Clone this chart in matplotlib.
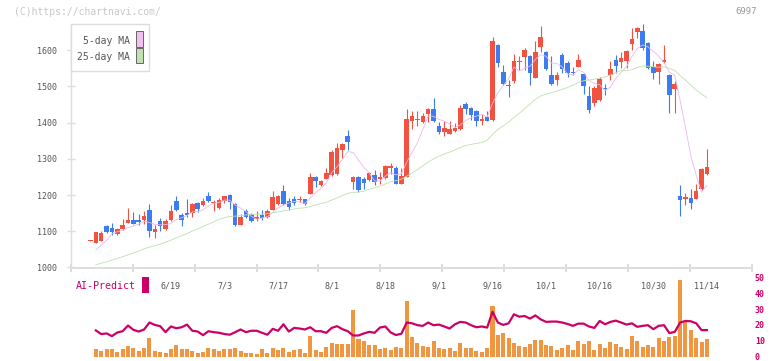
import numpy as np
import pandas as pd
import matplotlib
matplotlib.use("Agg")
import matplotlib.pyplot as plt
from matplotlib.patches import Rectangle
from matplotlib.transforms import blended_transform_factory

# daily prices (red = up day, blue = down day)
opens = [1073, 1068, 1074, 1114, 1109, 1093, 1106, 1124, 1131, 1131, 1131, 1159, 1099, 1128, 1106, 1131,
         1183, 1144, 1151, 1151, 1178, 1173, 1197, 1177, 1164, 1184, 1200, 1175, 1118, 1155, 1148, 1134,
         1145, 1139, 1160, 1175, 1211, 1184, 1189, 1186, 1189, 1203, 1250, 1228, 1244, 1255, 1257, 1325,
         1363, 1236, 1250, 1244, 1241, 1255, 1244, 1247, 1275, 1275, 1231, 1251, 1404, 1407, 1401, 1424,
         1437, 1390, 1375, 1369, 1377, 1382, 1450, 1439, 1432, 1405, 1414, 1407, 1614, 1539, 1503, 1514,
         1567, 1580, 1583, 1524, 1608, 1594, 1531, 1517, 1586, 1564, 1540, 1553, 1534, 1473, 1454, 1462,
         1495, 1531, 1572, 1567, 1570, 1617, 1650, 1652, 1619, 1553, 1539, 1567, 1531, 1492, 1197, 1189,
         1192, 1189, 1216, 1258]
highs = [1075, 1099, 1102, 1118, 1122, 1110, 1133, 1164, 1152, 1147, 1155, 1175, 1117, 1136, 1135, 1173,
         1197, 1151, 1189, 1179, 1182, 1191, 1209, 1186, 1192, 1198, 1204, 1177, 1148, 1161, 1150, 1156,
         1159, 1161, 1211, 1199, 1228, 1192, 1197, 1197, 1190, 1261, 1253, 1241, 1275, 1324, 1343, 1343,
         1379, 1252, 1253, 1251, 1264, 1269, 1264, 1283, 1288, 1280, 1275, 1437, 1433, 1432, 1426, 1440,
         1468, 1401, 1404, 1404, 1399, 1448, 1457, 1442, 1434, 1425, 1432, 1636, 1616, 1559, 1517, 1589,
         1583, 1606, 1586, 1625, 1667, 1597, 1583, 1539, 1591, 1570, 1553, 1589, 1537, 1501, 1501, 1525,
         1506, 1570, 1586, 1594, 1599, 1661, 1664, 1672, 1622, 1570, 1565, 1614, 1534, 1514, 1227, 1205,
         1216, 1230, 1274, 1327]
lows = [1072, 1067, 1073, 1094, 1090, 1091, 1103, 1123, 1119, 1118, 1119, 1085, 1082, 1102, 1103, 1129,
        1157, 1114, 1140, 1140, 1154, 1171, 1180, 1157, 1161, 1179, 1161, 1115, 1117, 1137, 1126, 1129,
        1130, 1137, 1159, 1172, 1172, 1159, 1172, 1181, 1172, 1202, 1223, 1225, 1243, 1252, 1255, 1303,
        1325, 1217, 1208, 1217, 1239, 1228, 1230, 1245, 1258, 1231, 1230, 1249, 1382, 1390, 1399, 1401,
        1401, 1368, 1363, 1368, 1374, 1379, 1425, 1407, 1391, 1394, 1403, 1405, 1552, 1503, 1470, 1509,
        1545, 1545, 1503, 1522, 1594, 1545, 1504, 1503, 1536, 1526, 1531, 1552, 1479, 1427, 1446, 1459,
        1476, 1517, 1537, 1550, 1550, 1600, 1633, 1600, 1548, 1520, 1506, 1565, 1426, 1426, 1142, 1172,
        1161, 1188, 1213, 1256]
closes = [1074, 1098, 1095, 1098, 1098, 1105, 1117, 1131, 1121, 1125, 1142, 1102, 1106, 1114, 1128, 1155,
          1159, 1131, 1145, 1176, 1162, 1183, 1184, 1182, 1186, 1196, 1180, 1118, 1140, 1139, 1129, 1139,
          1137, 1156, 1195, 1197, 1175, 1167, 1178, 1189, 1175, 1250, 1239, 1239, 1261, 1320, 1331, 1341,
          1346, 1250, 1214, 1233, 1261, 1237, 1250, 1280, 1280, 1231, 1252, 1410, 1417, 1410, 1418, 1437,
          1404, 1375, 1385, 1382, 1385, 1440, 1438, 1421, 1405, 1409, 1405, 1625, 1565, 1506, 1501, 1570,
          1570, 1600, 1537, 1594, 1636, 1548, 1506, 1531, 1548, 1537, 1537, 1572, 1501, 1434, 1495, 1520,
          1492, 1548, 1556, 1578, 1597, 1630, 1661, 1606, 1550, 1537, 1561, 1572, 1476, 1506, 1186, 1194,
          1178, 1211, 1272, 1277]
# closes before the first shown day (only feed the moving averages)
prior_closes = [1000, 995, 990, 985, 990, 1000, 1005, 995, 990, 985, 990, 1000, 1005, 1010, 1000, 995,
                990, 1000, 1005, 1010, 1010, 1030, 1030, 1010]

# lower panel, from the 2nd day on
volume = [5.4, 4.2, 5.4, 5.4, 3.5, 5.4, 7.3, 6.0, 4.2, 6.0, 12.3, 4.2, 3.5, 2.9, 5.4, 7.9, 5.4, 5.4, 4.2,
          2.9, 3.5, 6.0, 5.4, 4.2, 5.4, 5.4, 6.0, 4.2, 2.9, 2.9, 2.3, 5.4, 2.9, 6.0, 4.8, 6.0, 3.5, 4.8,
          5.4, 2.9, 13.5, 4.8, 3.5, 6.7, 9.2, 8.5, 8.5, 8.5, 29.8, 11.7, 10.4, 7.9, 7.9, 5.4, 6.0, 4.8,
          6.7, 6.0, 36.0, 12.9, 9.2, 7.3, 6.7, 10.4, 6.0, 5.4, 6.0, 4.2, 9.2, 6.0, 6.0, 4.2, 3.5, 6.0,
          32.3, 14.2, 15.4, 12.3, 9.2, 7.3, 6.7, 8.5, 11.0, 11.0, 7.9, 7.3, 4.8, 6.0, 7.9, 4.8, 10.4, 8.5,
          10.4, 4.8, 8.5, 6.0, 9.8, 8.5, 6.7, 5.4, 13.5, 10.4, 6.7, 7.9, 6.7, 12.3, 10.4, 12.9, 13.5, 49.2,
          22.3, 17.3, 12.3, 9.8, 11.7]
ai_predict = [16.5, 14.2, 14.6, 12.9, 15.2, 16.0, 19.6, 16.9, 15.8, 17.1, 21.5, 20.0, 19.2, 15.4, 19.0,
              17.9, 18.5, 20.2, 16.3, 15.8, 13.5, 16.0, 15.4, 15.0, 14.2, 13.8, 15.4, 17.1, 15.4, 16.3,
              16.3, 15.0, 13.8, 17.5, 16.3, 20.4, 15.8, 18.1, 17.7, 17.1, 18.5, 16.0, 16.0, 15.0, 18.1,
              19.2, 17.3, 16.0, 13.3, 13.3, 14.6, 15.6, 15.0, 18.3, 19.0, 15.2, 13.6, 14.4, 21.5, 21.0,
              19.8, 19.4, 21.5, 19.8, 20.2, 19.0, 17.7, 20.4, 21.9, 21.5, 19.8, 18.5, 19.0, 18.3, 28.3,
              21.5, 20.0, 21.0, 26.7, 25.2, 25.6, 24.0, 26.0, 23.5, 21.9, 22.1, 22.1, 21.5, 20.6, 19.4,
              20.8, 20.8, 19.0, 18.1, 22.5, 20.4, 21.9, 22.7, 21.5, 20.2, 21.0, 18.8, 19.4, 19.8, 17.3,
              19.4, 19.8, 14.8, 15.6, 21.5, 22.5, 22.3, 21.0, 16.7, 16.7]

date_labels = ['6/19', '7/3', '7/17', '8/1', '8/18', '9/1', '9/16', '10/1', '10/16', '10/30', '11/14']
date_index = [15, 25, 35, 45, 55, 65, 75, 85, 95, 105, 115]

RED = '#f25341'
BLUE = '#3d7cf0'
MAG = '#cc0066'
GRID = '#dddddd'
FONT = 'DejaVu Sans Mono'

o = np.array(opens, float)
h = np.array(highs, float)
l = np.array(lows, float)
c = np.array(closes, float)
idx = np.arange(len(c))

allc = pd.Series(prior_closes + closes, dtype=float)
ma5 = allc.rolling(5).mean().values[len(prior_closes):]
ma25 = allc.rolling(25).mean().values[len(prior_closes):]

W, H = 772, 361
fig = plt.figure(figsize=(W / 100, H / 100), dpi=100)

xmin, xmax = -3.69, 123.41
ax_l, ax_w = 70.7 / W, (752 - 70.7) / W

# lower panel first, so the date labels of the upper axes sit on top of it
ax2 = fig.add_axes([ax_l, 1 - 356.5 / H, ax_w, 79 / H])
ax2.patch.set_visible(False)
ax2.set_xlim(xmin, xmax)
ax2.set_ylim(0, 50)
ax2.bar(idx[1:], volume, width=0.75, bottom=-0.6, color='#f09540', linewidth=0, zorder=2)
ax2.plot(idx[1:], ai_predict, color=MAG, lw=1.6, zorder=3)
for s in ax2.spines.values():
    s.set_visible(False)
ax2.set_xticks([])
ax2.yaxis.tick_right()
ax2.set_yticks(range(0, 51, 10))
ax2.tick_params(axis='y', length=0, labelsize=6, labelcolor=MAG, pad=2)
for t in ax2.get_yticklabels():
    t.set_family(FONT)
    t.set_fontweight('bold')

ax = fig.add_axes([ax_l, 1 - 267.5 / H, ax_w, (267.5 - 24) / H])
ax.patch.set_visible(False)
ax.set_xlim(xmin, xmax)
ax.set_ylim(1000, 1672)

colors = np.where(c >= o, RED, BLUE)
body_lo = np.minimum(o, c)
body_h = np.maximum(np.abs(c - o), 2.0)
ax.vlines(idx, l, h, colors=colors, linewidth=0.8, zorder=2)
ax.bar(idx, body_h, bottom=body_lo, width=0.85, color=colors, linewidth=0, zorder=3)
ax.plot(idx[1:], ma5[1:], color='#ecb8ec', lw=0.6, zorder=4)
ax.plot(idx[1:], ma25[1:], color='#bfe0ae', lw=0.6, zorder=4)

for s in ['top', 'right']:
    ax.spines[s].set_visible(False)
ax.spines['left'].set_color(GRID)
ax.spines['bottom'].set_color(GRID)
ax.spines['left'].set_linewidth(1.0)
ax.spines['bottom'].set_linewidth(1.4)
ax.set_yticks(range(1000, 1700, 100))
ax.tick_params(axis='y', direction='inout', length=5.8, width=1.0, color=GRID,
               labelsize=6, labelcolor='#555555', pad=7)
for t in ax.get_yticklabels():
    t.set_family(FONT)
ax.set_xticks(np.linspace(xmin, xmax, 12))
ax.tick_params(axis='x', direction='inout', length=5.8, width=1.4, color=GRID, labelbottom=False)

tr = blended_transform_factory(ax.transData, ax.transAxes)
for lab, i in zip(date_labels, date_index):
    ax.text(i, -0.076, lab, transform=tr, ha='center', va='center', fontsize=6,
            color='#555555', family=FONT)

# figure texts in pixel positions
def fx(px):
    return px / W

def fy(py):
    return 1 - py / H

fig.text(fx(14), fy(12), '(C)https://chartnavi.com/', fontsize=7, color='#c8c8c8',
         family=FONT, va='center', ha='left')
fig.text(fx(757), fy(12), '6997', fontsize=6.5, color='#999999', family=FONT,
         va='center', ha='right')

fig.patches.append(Rectangle((fx(70.7), fy(71.3)), fx(148.7) - fx(70.7), fy(24) - fy(71.3),
                             transform=fig.transFigure, facecolor='white', edgecolor=GRID,
                             lw=1.0, zorder=5))
fig.text(fx(130), fy(40.7), '5-day MA', fontsize=7, color='#555555', family=FONT,
         ha='right', va='center', zorder=6)
fig.text(fx(130), fy(57.3), '25-day MA', fontsize=7, color='#555555', family=FONT,
         ha='right', va='center', zorder=6)
fig.patches.append(Rectangle((fx(136), fy(46.7)), fx(142.7) - fx(136), fy(31.3) - fy(46.7),
                             transform=fig.transFigure, facecolor='#f0c0f0', edgecolor='#666666',
                             lw=0.7, zorder=6))
fig.patches.append(Rectangle((fx(136), fy(63.3)), fx(142.7) - fx(136), fy(48.3) - fy(63.3),
                             transform=fig.transFigure, facecolor='#c0e0b0', edgecolor='#666666',
                             lw=0.7, zorder=6))

fig.text(fx(76), fy(286), 'AI-Predict', fontsize=7.2, color=MAG, family=FONT,
         ha='left', va='center')
fig.patches.append(Rectangle((fx(141.7), fy(292.7)), fx(149) - fx(141.7), fy(276.7) - fy(292.7),
                             transform=fig.transFigure, facecolor=MAG, edgecolor='none'))

fig.savefig('out.png', dpi=100)
